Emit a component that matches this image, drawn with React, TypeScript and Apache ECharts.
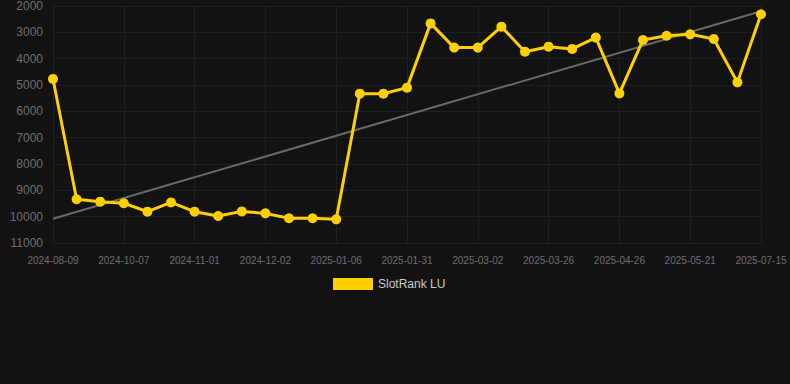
import React, { useEffect, useRef } from "react";
import * as echarts from "echarts";

const dates = [
  "2024-08-09", "2024-08-28", "2024-09-17", "2024-10-07", "2024-10-15", "2024-10-23",
  "2024-11-01", "2024-11-11", "2024-11-21", "2024-12-02", "2024-12-14", "2024-12-25",
  "2025-01-06", "2025-01-14", "2025-01-22", "2025-01-31", "2025-02-10", "2025-02-20",
  "2025-03-02", "2025-03-10", "2025-03-18", "2025-03-26", "2025-04-05", "2025-04-16",
  "2025-04-26", "2025-05-04", "2025-05-12", "2025-05-21", "2025-06-08", "2025-06-26",
  "2025-07-15",
];

const rankValues = [
  4770, 9340, 9430, 9490, 9810, 9460, 9810, 9975, 9800, 9875, 10060, 10060, 10100,
  5330, 5330, 5100, 2660, 3580, 3580, 2785, 3735, 3545, 3630, 3200, 5320, 3290,
  3130, 3075, 3250, 4900, 2315,
];

const trendStart = 10080;
const trendEnd = 2200;

const yMin = 2000;
const yMax = 11000;
const yInterval = 1000;

export default function App() {
  const ref = useRef<HTMLDivElement>(null);

  useEffect(() => {
    if (!ref.current) return;
    const chart = echarts.init(ref.current, null, { renderer: "svg" });
    const trendData = dates.map((_, i) =>
      i === 0 ? trendStart : i === dates.length - 1 ? trendEnd : null
    );
    chart.setOption({
      animation: false,
      backgroundColor: "#121212",
      grid: { left: 53, right: 29, top: 6, bottom: 141, containLabel: false },
      legend: {
        data: [{ name: "SlotRank LU", icon: "rect" }],
        top: 273,
        left: 328,
        itemWidth: 40,
        itemHeight: 12,
        itemGap: 10,
        textStyle: { color: "#cccccc", fontSize: 12 },
      },
      xAxis: {
        type: "category",
        data: dates,
        boundaryGap: false,
        axisLine: { show: true, lineStyle: { color: "#1f1f1f" } },
        axisTick: { show: false },
        axisLabel: { interval: 2, color: "#6e6e6e", fontSize: 10, margin: 12 },
        splitLine: { show: true, interval: 2, lineStyle: { color: "#1f1f1f" } },
      },
      yAxis: {
        type: "value",
        inverse: true,
        min: yMin,
        max: yMax,
        interval: yInterval,
        axisLine: { show: false },
        axisTick: { show: false },
        axisLabel: {
          color: "#6e6e6e",
          fontSize: 12,
          margin: 10,
          formatter: (v: number) => String(v),
        },
        splitLine: { show: true, lineStyle: { color: "#1f1f1f" } },
      },
      series: [
        {
          name: "SlotRank LU",
          type: "line",
          data: rankValues,
          symbol: "circle",
          symbolSize: 10,
          itemStyle: { color: "#ffd000" },
          lineStyle: { color: "#ffd000", width: 3 },
          z: 3,
        },
        {
          name: "Trend",
          type: "line",
          data: trendData,
          connectNulls: true,
          symbol: "none",
          lineStyle: { color: "#6a6a6a", width: 2 },
          itemStyle: { color: "#6a6a6a" },
          z: 2,
        },
      ],
    });
    return () => chart.dispose();
  }, []);

  return (
    <div
      ref={ref}
      style={{ position: "fixed", left: 0, top: 0, width: 790, height: 384 }}
    />
  );
}
